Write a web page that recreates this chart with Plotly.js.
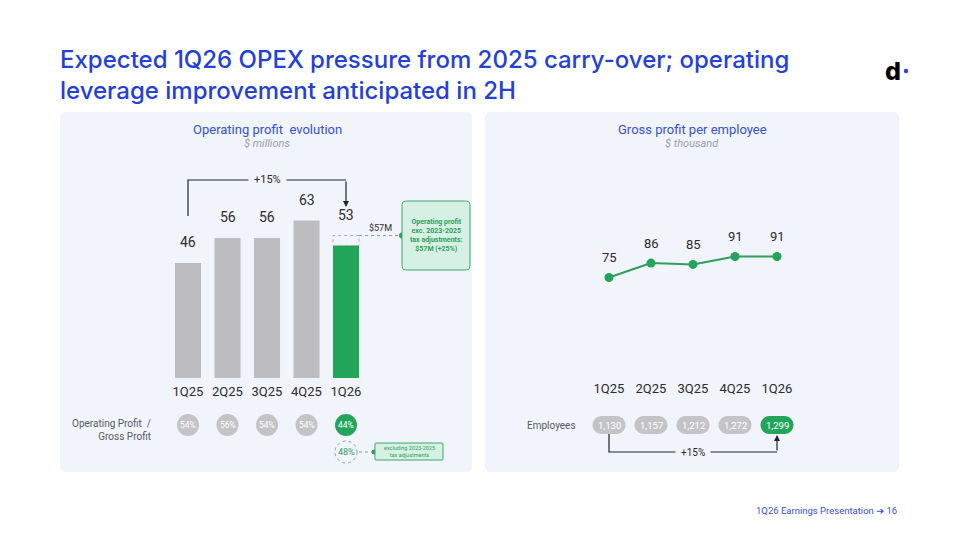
<!DOCTYPE html>
<html>
<head>
<meta charset="utf-8">
<script src="https://cdn.plot.ly/plotly-3.0.1.min.js"></script>
<style>html,body{margin:0;padding:0;background:#fff;}#chart{width:960px;height:540px;}</style>
</head>
<body>
<div id="chart"></div>
<script>
// ---------- DATA ----------
const categories = ['1Q25', '2Q25', '3Q25', '4Q25', '1Q26'];
const operatingProfit = [46, 56, 56, 63, 53];            // $ millions
const operatingProfitAdj = [null, null, null, null, 57];  // exc. 2023-2025 tax adjustments
const opToGrossPct = [54, 56, 54, 54, 44];
const opToGrossAdjPct = [null, null, null, null, 48];
const grossProfitPerEmployee = [75, 86, 85, 91, 91];      // $ thousand
const employees = [1130, 1157, 1212, 1272, 1299];
const adjGrowthLabel = '+25%';

// ---------- STYLE ----------
const W = 960, H = 540;
const PX = x => x / W;
const PY = y => 1 - y / H;
const PANEL = '#f1f4fb';
const GREY = '#bdbdbf';
const GREEN = '#22a55a';
const DARK = '#1c2436';
const BLUE = '#2340dc';
const TXT = '#2b2b2b';
const last = categories.length - 1;
const idx = categories.map((_, i) => i);

function rrect(x0, y0, x1, y1, r) {
  const p = (x, y) => PX(x) + ',' + PY(y);
  return 'M' + p(x0 + r, y0) + ' L' + p(x1 - r, y0) +
    ' C' + p(x1, y0) + ' ' + p(x1, y0) + ' ' + p(x1, y0 + r) +
    ' L' + p(x1, y1 - r) +
    ' C' + p(x1, y1) + ' ' + p(x1, y1) + ' ' + p(x1 - r, y1) +
    ' L' + p(x0 + r, y1) +
    ' C' + p(x0, y1) + ' ' + p(x0, y1) + ' ' + p(x0, y1 - r) +
    ' L' + p(x0, y0 + r) +
    ' C' + p(x0, y0) + ' ' + p(x0, y0) + ' ' + p(x0 + r, y0) + ' Z';
}
function pillPath(w, h) {
  const r = h / 2, a = w / 2 - r, c = r * 0.55;
  return `M${-a},${-r} L${a},${-r} C${a + c},${-r} ${a + r},${-c} ${a + r},0 C${a + r},${c} ${a + c},${r} ${a},${r} L${-a},${r} C${-a - c},${r} ${-a - r},${c} ${-a - r},0 C${-a - r},${-c} ${-a - c},${-r} ${-a},${-r} Z`;
}

// ---------- TRACES ----------
const barTrace = {
  type: 'bar', x: categories, y: operatingProfit, xaxis: 'x', yaxis: 'y',
  width: 0.66,
  marker: { color: idx.map(i => i === last ? GREEN : GREY) },
  hoverinfo: 'skip', showlegend: false
};
const lineTrace = {
  type: 'scatter', mode: 'lines+markers', x: categories, y: grossProfitPerEmployee,
  xaxis: 'x2', yaxis: 'y2',
  line: { color: '#2e9e5e', width: 2 },
  marker: { color: GREEN, size: 9 },
  hoverinfo: 'skip', showlegend: false
};

// ---------- SHAPES ----------
const shapes = [];
shapes.push({ type: 'path', xref: 'paper', yref: 'paper', layer: 'below', path: rrect(60, 112, 472, 472, 12), fillcolor: PANEL, line: { width: 0 } });
shapes.push({ type: 'path', xref: 'paper', yref: 'paper', layer: 'below', path: rrect(485, 112, 899, 472, 12), fillcolor: PANEL, line: { width: 0 } });

// dashed box for adjusted operating profit
shapes.push({ type: 'rect', xref: 'x', yref: 'y', x0: last - 0.33, x1: last + 0.33, y0: operatingProfit[last], y1: operatingProfitAdj[last],
  line: { color: '#a9b0b0', width: 1, dash: 'dot' }, fillcolor: 'rgba(0,0,0,0)' });
// connector
shapes.push({ type: 'line', xref: 'paper', yref: 'y', x0: PX(359), x1: PX(402), y0: operatingProfitAdj[last], y1: operatingProfitAdj[last],
  line: { color: '#8a9a92', width: 1, dash: 'dot' } });
shapes.push({ type: 'circle', xref: 'paper', yref: 'y', xsizemode: 'pixel', ysizemode: 'pixel', xanchor: PX(402), yanchor: operatingProfitAdj[last],
  x0: -3, x1: 3, y0: -3, y1: 3, fillcolor: '#2e9e5e', line: { width: 0 } });
// green note box
shapes.push({ type: 'path', xref: 'paper', yref: 'paper', path: rrect(402, 201, 470, 270, 8), fillcolor: '#d6f1e3', line: { color: '#3aa86a', width: 1 } });

// bracket top-left (growth 1Q25 -> 1Q26)
shapes.push({ type: 'path', xref: 'x', yref: 'paper', path: `M0,${PY(216)} L0,${PY(180)} L${last},${PY(180)}`, line: { color: DARK, width: 1.2 } });

// ratio circles
idx.forEach(i => {
  shapes.push({ type: 'circle', xref: 'x', yref: 'paper', xsizemode: 'pixel', ysizemode: 'pixel', xanchor: i, yanchor: PY(425),
    x0: -11, x1: 11, y0: -11, y1: 11, fillcolor: i === last ? GREEN : '#c4c4c6', line: { width: 0 } });
});
// adjusted ratio dashed circle
shapes.push({ type: 'circle', xref: 'x', yref: 'paper', xsizemode: 'pixel', ysizemode: 'pixel', xanchor: last, yanchor: PY(452),
  x0: -11, x1: 11, y0: -11, y1: 11, fillcolor: 'rgba(0,0,0,0)', line: { color: '#8fa39a', width: 1, dash: 'dot' } });
shapes.push({ type: 'line', xref: 'paper', yref: 'paper', x0: PX(359), x1: PX(374), y0: PY(452), y1: PY(452), line: { color: '#8a9a92', width: 1, dash: 'dot' } });
shapes.push({ type: 'circle', xref: 'paper', yref: 'paper', xsizemode: 'pixel', ysizemode: 'pixel', xanchor: PX(374), yanchor: PY(452),
  x0: -2.5, x1: 2.5, y0: -2.5, y1: 2.5, fillcolor: '#2e9e5e', line: { width: 0 } });
shapes.push({ type: 'path', xref: 'paper', yref: 'paper', path: rrect(375, 443, 443, 460, 2), fillcolor: '#d6f1e3', line: { color: '#3aa86a', width: 1 } });

// employee pills
idx.forEach(i => {
  shapes.push({ type: 'path', xref: 'x2', yref: 'paper', xsizemode: 'pixel', ysizemode: 'pixel', xanchor: i, yanchor: PY(425),
    path: pillPath(33, 18), fillcolor: i === last ? GREEN : '#c4c4c6', line: { width: 0 } });
});
// bracket bottom-right
shapes.push({ type: 'path', xref: 'x2', yref: 'paper', path: `M0,${PY(434)} L0,${PY(452)} L${last},${PY(452)}`, line: { color: DARK, width: 1.2 } });

// logo dot
shapes.push({ type: 'circle', xref: 'paper', yref: 'paper', xsizemode: 'pixel', ysizemode: 'pixel', xanchor: PX(906), yanchor: PY(71),
  x0: -2.2, x1: 2.2, y0: -2.2, y1: 2.2, fillcolor: '#2f3fe0', line: { width: 0 } });

// ---------- ANNOTATIONS ----------
const ann = [];
const F = 'Roboto, "Open Sans", sans-serif';
// bar value labels
idx.forEach(i => {
  const top = operatingProfitAdj[i] != null ? operatingProfitAdj[i] : operatingProfit[i];
  ann.push({ xref: 'x', yref: 'y', x: categories[i], y: top, yshift: 21, text: String(operatingProfit[i]), showarrow: false,
    font: { family: F, size: 14, color: TXT, weight: 400 } });
});
// growth bracket
const opGrowth = Math.round((operatingProfit[last] / operatingProfit[0] - 1) * 100);
ann.push({ xref: 'x', yref: 'paper', x: 2, y: PY(180), text: '+' + opGrowth + '%', showarrow: false, bgcolor: PANEL,
  borderpad: 5, font: { family: F, size: 11, color: TXT } });
ann.push({ xref: 'x', yref: 'paper', x: last, y: PY(207), ax: 0, ay: -27, axref: 'pixel', ayref: 'pixel', text: '', showarrow: true,
  arrowhead: 2, arrowsize: 1, arrowwidth: 1.2, arrowcolor: DARK });
// $57M
ann.push({ xref: 'paper', yref: 'y', x: PX(380), y: operatingProfitAdj[last], yshift: 8, text: '$' + operatingProfitAdj[last] + 'M', showarrow: false,
  font: { family: F, size: 9, color: TXT } });
ann.push({ xref: 'paper', yref: 'paper', x: PX(436), y: PY(235.5), text: 'Operating profit<br>exc. 2023-2025<br>tax adjustments:<br>$' + operatingProfitAdj[last] + 'M (' + adjGrowthLabel + ')',
  showarrow: false, font: { family: F, size: 7, color: '#2e9e5e', weight: 700 } });
// panel titles
ann.push({ xref: 'paper', yref: 'paper', x: PX(267), y: PY(129), text: 'Operating profit  evolution', showarrow: false, font: { family: F, size: 13, color: '#3550d8' } });
ann.push({ xref: 'paper', yref: 'paper', x: PX(267), y: PY(144), text: '<i>$ millions</i>', showarrow: false, font: { family: F, size: 11, color: '#9a9ea8' } });
ann.push({ xref: 'paper', yref: 'paper', x: PX(692), y: PY(129), text: 'Gross profit per employee', showarrow: false, font: { family: F, size: 13, color: '#3550d8' } });
ann.push({ xref: 'paper', yref: 'paper', x: PX(692), y: PY(144), text: '<i>$ thousand</i>', showarrow: false, font: { family: F, size: 11, color: '#9a9ea8' } });
// ratio row
ann.push({ xref: 'paper', yref: 'paper', x: PX(153), y: PY(430), xanchor: 'right', align: 'right', text: 'Operating Profit  /<br>Gross Profit', showarrow: false,
  font: { family: F, size: 10, color: '#555a60' } });
idx.forEach(i => {
  ann.push({ xref: 'x', yref: 'paper', x: i, y: PY(425), text: opToGrossPct[i] + '%', showarrow: false, font: { family: F, size: 8.5, color: '#ffffff' } });
});
ann.push({ xref: 'x', yref: 'paper', x: last, y: PY(452), text: opToGrossAdjPct[last] + '%', showarrow: false, font: { family: F, size: 9, color: '#2e9e5e' } });
ann.push({ xref: 'paper', yref: 'paper', x: PX(409), y: PY(451.5), text: 'excluding 2023-2025<br>tax adjustments', showarrow: false, font: { family: F, size: 5.5, color: '#2e9e5e' } });
// line labels
idx.forEach(i => {
  ann.push({ xref: 'x2', yref: 'y2', x: categories[i], y: grossProfitPerEmployee[i], yshift: 20, text: String(grossProfitPerEmployee[i]), showarrow: false,
    font: { family: F, size: 13, color: TXT, weight: 400 } });
});
// employees
ann.push({ xref: 'paper', yref: 'paper', x: PX(551), y: PY(425), text: 'Employees', showarrow: false, font: { family: F, size: 10, color: '#555a60' } });
idx.forEach(i => {
  ann.push({ xref: 'x2', yref: 'paper', x: i, y: PY(425), text: employees[i].toLocaleString('en-US'), showarrow: false, font: { family: F, size: 9.5, color: '#ffffff' } });
});
const empGrowth = Math.round((employees[last] / employees[0] - 1) * 100);
ann.push({ xref: 'x2', yref: 'paper', x: 2, y: PY(452), text: '+' + empGrowth + '%', showarrow: false, bgcolor: PANEL, borderpad: 5, font: { family: F, size: 10, color: TXT } });
ann.push({ xref: 'x2', yref: 'paper', x: last, y: PY(435), ax: 0, ay: 17, axref: 'pixel', ayref: 'pixel', text: '', showarrow: true,
  arrowhead: 2, arrowsize: 1, arrowwidth: 1.2, arrowcolor: DARK });
// footer + logo
ann.push({ xref: 'paper', yref: 'paper', x: PX(899), y: PY(510), xanchor: 'right', text: '1Q26 Earnings Presentation <span style="font-family:DejaVu Sans">➔</span> 16', showarrow: false,
  font: { family: F, size: 9.5, color: '#3b4fd8' } });
ann.push({ xref: 'paper', yref: 'paper', x: PX(893), y: PY(71), text: 'd', showarrow: false, font: { family: 'Inter, sans-serif', size: 25, color: '#000000', weight: 800 } });
ann.forEach(a => { if (!a.xanchor) a.xanchor = 'center'; if (!a.yanchor) a.yanchor = 'middle'; });

// ---------- LAYOUT ----------
const layout = {
  width: W, height: H,
  margin: { l: 0, r: 0, t: 0, b: 0, pad: 0 },
  paper_bgcolor: '#ffffff', plot_bgcolor: 'rgba(0,0,0,0)',
  showlegend: false,
  title: {
    text: 'Expected 1Q26 OPEX pressure from 2025 carry-over; operating<br>leverage improvement anticipated in 2H',
    x: PX(60), xanchor: 'left', xref: 'paper', y: PY(68), yanchor: 'middle', yref: 'paper',
    font: { family: 'Inter, sans-serif', size: 24, color: BLUE, weight: 500 }
  },
  xaxis: { domain: [PX(168.25), PX(365.75)], anchor: 'y', type: 'category', range: [-0.5, 4.5], fixedrange: true,
    showgrid: false, zeroline: false, showline: false, ticks: '', ticklabelstandoff: 4, tickfont: { family: F, size: 13, color: TXT } },
  yaxis: { domain: [PY(378), PY(178)], anchor: 'x', range: [0, 80], visible: false, fixedrange: true },
  xaxis2: { domain: [PX(588), PX(798)], anchor: 'y2', type: 'category', range: [-0.5, 4.5], fixedrange: true,
    showgrid: false, zeroline: false, showline: false, ticks: '', ticklabelstandoff: 3, tickfont: { family: F, size: 13, color: TXT } },
  yaxis2: { domain: [PY(376), PY(231.6)], anchor: 'x2', range: [0, 110], visible: false, fixedrange: true },
  shapes: shapes,
  annotations: ann
};

Plotly.newPlot('chart', [barTrace, lineTrace], layout, { staticPlot: true, displayModeBar: false });
</script>
</body>
</html>
